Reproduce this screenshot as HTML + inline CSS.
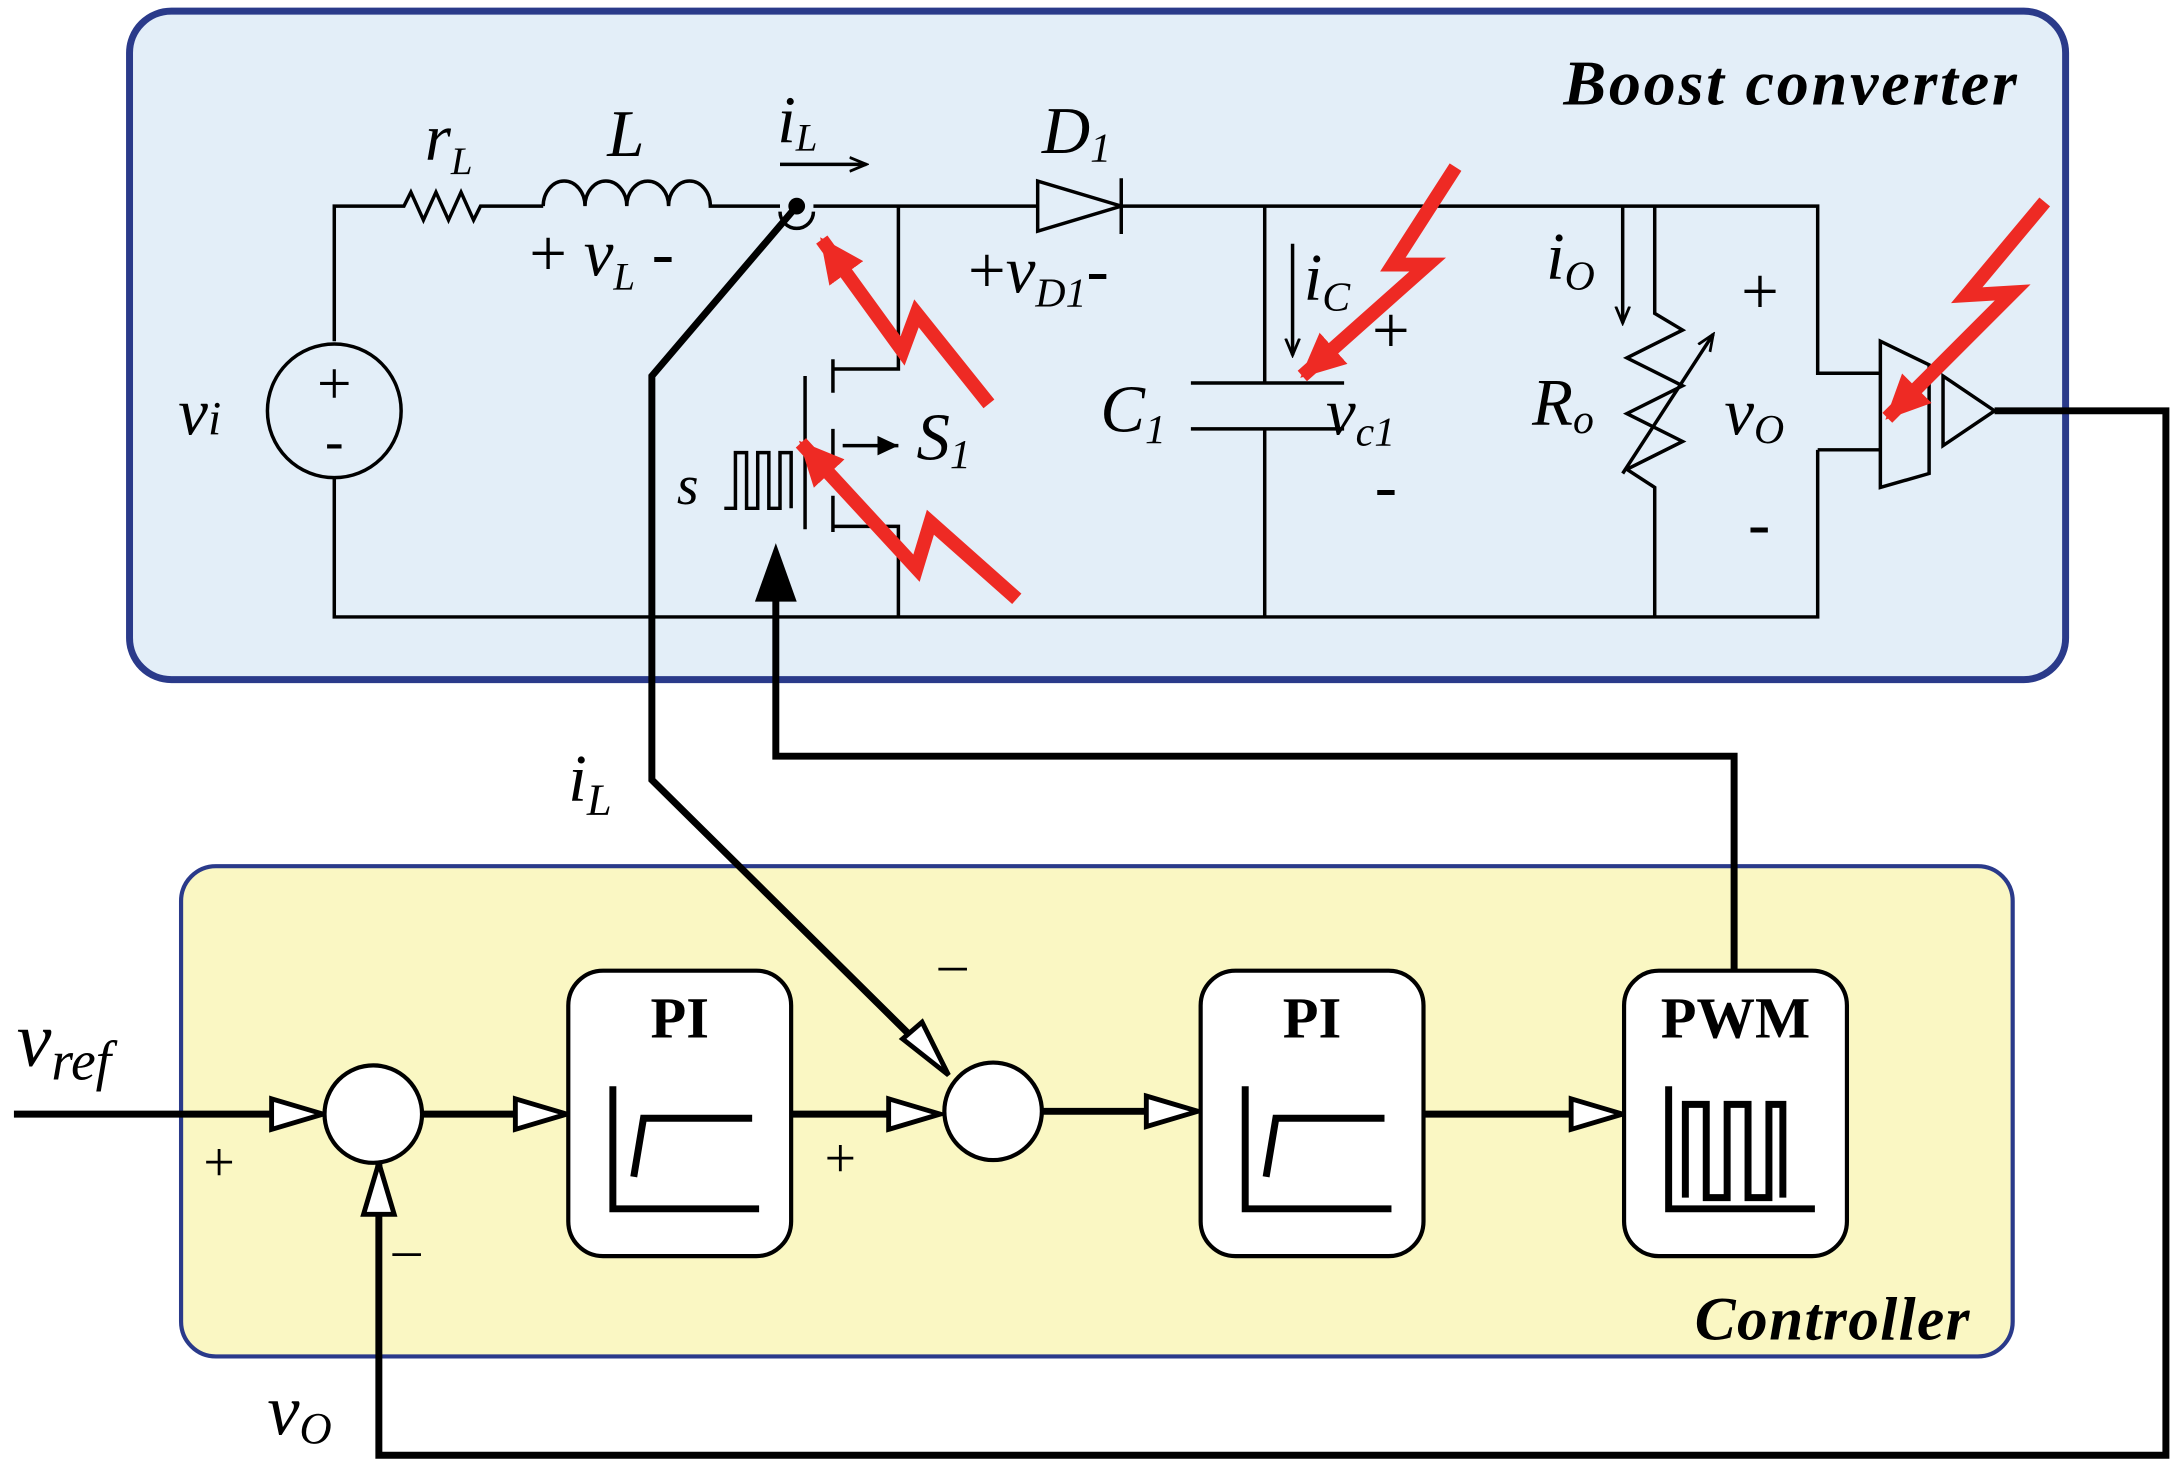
<!DOCTYPE html>
<html><head><meta charset="utf-8"><style>html,body{margin:0;padding:0;background:#fff}svg{display:block}</style></head>
<body>
<svg width="2184" height="1472" viewBox="0 0 1568 1057" preserveAspectRatio="none" xmlns="http://www.w3.org/2000/svg" font-family="Liberation Serif, serif">
<defs>
<marker id="open" markerWidth="40" markerHeight="28" refX="37" refY="14" orient="auto" markerUnits="userSpaceOnUse" viewBox="0 0 40 28"><path d="M2,3 L37,14 L2,25 Z" fill="#fff" stroke="#000" stroke-width="3.5"/></marker>
<marker id="red" markerWidth="40" markerHeight="40" refX="30" refY="20" orient="auto" markerUnits="userSpaceOnUse"><path d="M0,5 L32,20 L0,35 Z" fill="#ee2a24"/></marker>
<marker id="small" markerWidth="14" markerHeight="14" refX="12" refY="7" orient="auto" markerUnits="userSpaceOnUse"><path d="M0,2 L12,7 L0,12" fill="none" stroke="#000" stroke-width="2"/></marker>
</defs>
<rect x="93" y="8" width="1390" height="480" rx="30" fill="#e3eef8" stroke="#2a3a8a" stroke-width="5"/>
<rect x="130" y="622" width="1315" height="352" rx="25" fill="#faf7c3" stroke="#2a3a8a" stroke-width="3"/>
<text x="1450" y="75" text-anchor="end" font-size="46" font-style="italic" font-weight="bold" letter-spacing="2">Boost converter</text>
<text x="1415" y="962" text-anchor="end" font-size="44" font-style="italic" font-weight="bold" letter-spacing="1">Controller</text>

<g fill="none" stroke="#000" stroke-width="2.5">
<path d="M240,245 V148 H290 l5,-10 l9,20 l9,-20 l9,20 l9,-20 l9,20 l5,-10 H390"/>
<path d="M390,148 a15,18 0 0 1 30,0 a15,18 0 0 1 30,0 a15,18 0 0 1 30,0 a15,18 0 0 1 30,0 H560"/>
<path d="M584,148 H745 M805,148 H1305 V268 H1350 M1305,323 H1350 M1305,323 V443 H240 V343"/>
<circle cx="240" cy="295" r="48"/>
<path d="M745,130 V166 L805,148 Z M805,128 V168"/>
<path d="M645,148 V265 H598 M578,270 V380 M598,258 V282 M598,308 V332 M598,356 V382 M598,378 H645 V443 M645,320 H605"/>
<path d="M908,148 V275 M855,275 H965 M855,308 H965 M908,308 V443"/>
<path d="M1188,148 V225 l20,12 l-40,20 l40,20 l-40,20 l40,20 l-40,20 l20,13 V443"/>
<path d="M1165,340 L1230,240" marker-end="url(#small)"/>
<path d="M1350,245 L1385,262 V340 L1350,350 Z M1395,270 V320 L1432,295 Z"/>
<path d="M520,365 h8 v-40 h8 v40 h8 v-40 h8 v40 h8 v-40 h8 v40"/>
<path d="M560,118 H622" marker-end="url(#small)"/>
<path d="M928,175 V255" marker-end="url(#small)"/>
<path d="M1165,148 V232" marker-end="url(#small)"/>
<path d="M560,152 a12,12 0 0 0 24,0"/>
</g>
<path d="M645,320 l-15,-7 v14 z" fill="#000"/>
<circle cx="572" cy="148" r="6" fill="#000"/>
<text x="240" y="290" text-anchor="middle" font-size="44">+</text>
<text x="240" y="330" text-anchor="middle" font-size="40">-</text>

<g font-style="italic" font-size="48">
<text x="128" y="312">v<tspan font-size="34">i</tspan></text>
<text x="305" y="115">r<tspan font-size="28" dy="10">L</tspan></text>
<text x="436" y="112">L</text>
<text x="380" y="198"><tspan font-style="normal">+</tspan> v<tspan font-size="28" dy="10">L</tspan><tspan font-style="normal" dy="-10"> -</tspan></text>
<text x="558" y="102">i<tspan font-size="28" dy="6">L</tspan></text>
<text x="748" y="110">D<tspan font-size="30" dy="6">1</tspan></text>
<text x="695" y="210"><tspan font-style="normal">+</tspan>v<tspan font-size="30" dy="10">D1</tspan><tspan font-style="normal" dy="-10">-</tspan></text>
<text x="936" y="215">i<tspan font-size="30" dy="8">C</tspan></text>
<text x="985" y="253" font-style="normal">+</text>
<text x="790" y="310">C<tspan font-size="30" dy="8">1</tspan></text>
<text x="952" y="312">v<tspan font-size="30" dy="8">c1</tspan></text>
<text x="987" y="365" font-style="normal">-</text>
<text x="1110" y="200">i<tspan font-size="30" dy="8">O</tspan></text>
<text x="1100" y="305">R<tspan font-size="30" dy="6">o</tspan></text>
<text x="1238" y="312">v<tspan font-size="30" dy="6">O</tspan></text>
<text x="1250" y="225" font-style="normal">+</text>
<text x="1255" y="392" font-style="normal">-</text>
<text x="658" y="330">S<tspan font-size="30" dy="6">1</tspan></text>
<text x="486" y="362" font-size="40">s</text>
<text x="408" y="575">i<tspan font-size="32" dy="10">L</tspan></text>
<text x="12" y="765" font-size="56">v<tspan font-size="40" dy="10">ref</tspan></text>
<text x="192" y="1030" font-size="52">v<tspan font-size="32" dy="6">O</tspan></text>
</g>
<text x="146" y="848" font-size="40">+</text>
<text x="592" y="845" font-size="40">+</text>
<text x="674" y="705" font-size="40">–</text>
<text x="282" y="910" font-size="40">–</text>

<g fill="none" stroke="#ee2a24" stroke-width="10" stroke-linejoin="miter">
<polyline points="710,290 658,225 648,252 590,172" marker-end="url(#red)"/>
<polyline points="730,430 668,375 658,408 575,318" marker-end="url(#red)"/>
<polyline points="1045,120 1000,190 1025,190 935,270" marker-end="url(#red)"/>
<polyline points="1468,145 1412,212 1445,210 1355,300" marker-end="url(#red)"/>
</g>

<g fill="none" stroke="#000" stroke-width="5">
<path d="M1432,295 H1555 V1045 H272 V835"/>
<path d="M572,148 L468,270 V560 L655,745"/>
<path d="M1245,697 V543 H557 V420"/>
<path d="M10,800 H200"/>
<path d="M303,800 H372"/>
<path d="M568,800 H640"/>
<path d="M748,798 H825"/>
<path d="M1022,800 H1130"/>
</g>
<g fill="#fff" stroke="#000" stroke-width="3.5">
<path d="M195,789 L232,800 L195,811 Z"/>
<path d="M370,789 L407,800 L370,811 Z"/>
<path d="M638,789 L675,800 L638,811 Z"/>
<path d="M823,787 L860,798 L823,809 Z"/>
<path d="M1128,789 L1165,800 L1128,811 Z"/>
<path d="M261,872 L272,835 L283,872 Z" transform="rotate(0)"/>
<path d="M648,746 L681,772 L662,734 Z"/>
</g>
<path d="M557,390 L542,432 H572 Z" fill="#000"/>
<circle cx="268" cy="800" r="35" fill="#fff" stroke="#000" stroke-width="3"/>
<circle cx="713" cy="798" r="35" fill="#fff" stroke="#000" stroke-width="3"/>

<g stroke="#000" stroke-width="3" fill="#fff">
<rect x="408" y="697" width="160" height="205" rx="25"/>
<rect x="862" y="697" width="160" height="205" rx="25"/>
<rect x="1166" y="697" width="160" height="205" rx="25"/>
</g>
<g font-weight="bold" font-size="42" text-anchor="middle">
<text x="488" y="745">PI</text>
<text x="942" y="745">PI</text>
<text x="1246" y="745">PWM</text>
</g>
<g fill="none" stroke="#000" stroke-width="5">
<path d="M440,780 V868 H545 M455,845 L462,803 H540"/>
<path d="M894,780 V868 H999 M909,845 L916,803 H994"/>
<path d="M1198,780 V868 H1303 M1210,860 V793 H1225 V860 H1240 V793 H1255 V860 H1270 V793 H1280 V860"/>
</g>
</svg>
</body></html>
